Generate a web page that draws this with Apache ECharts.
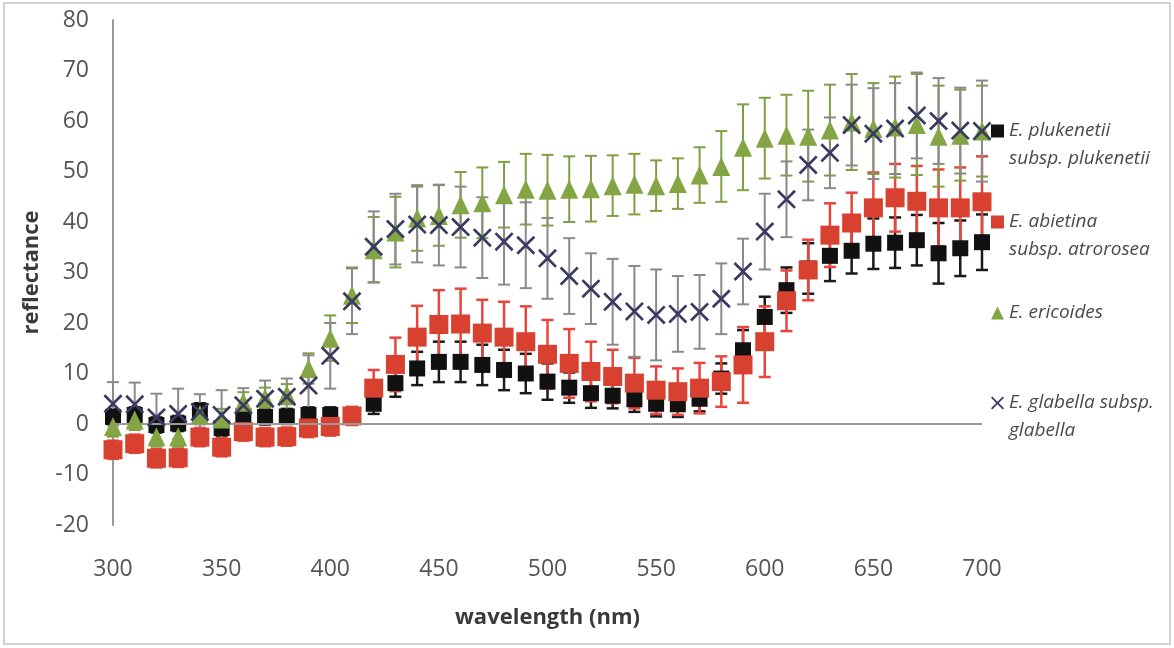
<!DOCTYPE html>
<html>
<head>
<meta charset="utf-8">
<script src="https://cdn.jsdelivr.net/npm/echarts@6/dist/echarts.min.js"></script>
<style>
  html, body { margin: 0; padding: 0; background: #fff; }
  #chart { width: 1174px; height: 648px; }
</style>
</head>
<body>
<div id="chart"></div>
<script>
  // wavelength steps, 10 nm apart
  const wavelength = [300, 310, 320, 330, 340, 350, 360, 370, 380, 390, 400, 410, 420, 430, 440, 450, 460, 470, 480, 490, 500,
    510, 520, 530, 540, 550, 560, 570, 580, 590, 600, 610, 620, 630, 640, 650, 660, 670, 680, 690, 700];

  const plukenetii = [1.4, 1.8, -0.2, 0.1, 2.6, -0.8, 1.6, 1.4, 1.5, 1.8, 1.8, 1.5, 4.0, 8.1, 11.0, 12.3, 12.3, 11.7, 10.7, 10.0, 8.4,
    7.2, 6.1, 5.6, 4.9, 4.0, 3.9, 5.0, 9.0, 14.6, 21.2, 26.5, 30.8, 33.3, 34.3, 35.7, 35.9, 36.4, 33.8, 34.8, 36.0];
  const plukenetiiErr = [1.5, 1.5, 1.5, 1.5, 1.5, 1.5, 1.5, 1.5, 1.5, 1.5, 1.5, 1.5, 2, 2.7, 3.3, 4, 4, 4, 4, 3.9, 3.6,
    3, 2.9, 2.5, 2.5, 2.5, 2.5, 2.5, 3, 4, 4, 4.5, 5, 5, 4.5, 5, 5, 5, 6, 5.5, 5.5];

  const abietina = [-5.1, -3.9, -6.8, -6.7, -2.6, -4.6, -1.5, -2.6, -2.5, -0.8, -0.5, 1.6, 7.1, 11.8, 17.2, 19.7, 19.8, 18.0, 17.2, 16.3, 13.8,
    12.0, 10.4, 9.4, 8.1, 6.7, 6.4, 7.1, 8.4, 11.7, 16.3, 24.4, 30.5, 37.4, 39.8, 42.8, 44.8, 44.1, 42.8, 42.8, 44.0];
  const abietinaErr = [1.8, 1.8, 1.8, 1.8, 1.8, 1.8, 1.8, 1.8, 1.8, 1.8, 1.8, 1.8, 3.6, 5.3, 6.2, 6.8, 7, 6.6, 7, 7, 6.8,
    6.8, 5.9, 5.3, 5, 4.7, 4.6, 5, 5, 7.5, 7, 6, 6, 6.3, 6, 7, 6.7, 7, 7.6, 8, 9];

  const ericoides = [-0.5, 0.8, -2.5, -2.5, 1.9, 1.0, 4.3, 5.2, 5.9, 11.0, 17.0, 25.5, 34.5, 38.0, 40.8, 41.3, 43.4, 43.8, 45.4, 46.5, 46.3,
    46.5, 46.6, 47.2, 47.5, 47.2, 47.6, 49.3, 51.0, 54.8, 56.6, 57.2, 57.0, 58.2, 59.8, 58.5, 58.8, 59.3, 57.0, 57.2, 58.0];
  const ericoidesErr = [2, 2, 2, 2, 2, 2, 2, 2, 2, 3, 4.5, 5.5, 6.5, 7, 6.5, 6, 6.5, 7, 6.5, 7, 7,
    6.5, 6.5, 6, 6, 5, 5, 5.5, 7, 8.5, 8, 8, 9, 9, 9.5, 9, 10, 10, 10, 9, 9];

  const glabella = [4.0, 3.9, 1.3, 2.0, 2.4, 1.8, 3.7, 5.0, 5.4, 7.6, 13.5, 24.3, 35.1, 38.6, 39.5, 39.4, 39.0, 36.9, 36.1, 35.4, 32.8,
    29.3, 26.8, 24.2, 22.3, 21.6, 21.8, 22.2, 24.8, 30.2, 38.1, 44.5, 51.3, 53.7, 59.2, 57.5, 58.5, 61.1, 60.0, 58.1, 58.0];
  const glabellaErr = [4.3, 4.3, 4.7, 5, 3.5, 4.9, 3.4, 3.6, 3.6, 6, 6.5, 6.5, 7, 7, 7.5, 8, 8, 8, 8.5, 8.5, 8,
    7.5, 7, 8.5, 9, 9, 7.5, 7.3, 7, 6.5, 7.5, 7.5, 7, 7, 8, 9, 9, 8.5, 8.5, 8.5, 10];

  const yTicks = { min: -20, max: 80, step: 10 };
  const xTicks = { min: 300, max: 700, step: 50 };

  const names = [
    'E. plukenetii subsp. plukenetii',
    'E. abietina subsp. atrorosea',
    'E. ericoides',
    'E. glabella subsp. glabella'
  ];

  const crossPath = 'path://M0,2 L2,0 L10,8 L18,0 L20,2 L12,10 L20,18 L18,20 L10,12 L2,20 L0,18 L8,10 Z';
  const font = '"Open Sans", sans-serif';

  // vertical bars with caps, drawn through the axes
  function errorBars(name, values, errs, color, width) {
    return {
      type: 'custom',
      name: name + ' err',
      z: 2,
      silent: true,
      renderItem: (params, api) => {
        const x = api.value(0);
        const top = api.coord([x, api.value(2)]);
        const bot = api.coord([x, api.value(1)]);
        const half = 6;
        const style = { stroke: color, lineWidth: width };
        return {
          type: 'group',
          children: [
            { type: 'line', shape: { x1: top[0], y1: top[1], x2: bot[0], y2: bot[1] }, style },
            { type: 'line', shape: { x1: top[0] - half, y1: top[1], x2: top[0] + half, y2: top[1] }, style },
            { type: 'line', shape: { x1: bot[0] - half, y1: bot[1], x2: bot[0] + half, y2: bot[1] }, style }
          ]
        };
      },
      encode: { x: 0, y: [1, 2] },
      data: wavelength.map((w, i) => [w, values[i] - errs[i], values[i] + errs[i]])
    };
  }

  function points(name, values, symbol, size, color, z) {
    return {
      type: 'scatter',
      name: name,
      symbol: symbol,
      symbolSize: size,
      z: z,
      itemStyle: { color: color, opacity: 1 },
      data: wavelength.map((w, i) => [w, values[i]])
    };
  }

  // legend text is centred on the icon, so an empty first line keeps the icon on the first text line
  function legendItem(name, icon, color, label, top) {
    const twoLines = label.indexOf('\n') >= 0;
    return {
      left: 986,
      top: top,
      orient: 'vertical',
      itemWidth: 13,
      itemHeight: 13,
      selectedMode: false,
      data: [{ name: name, icon: icon, itemStyle: { color: color } }],
      formatter: () => (twoLines ? ' \n' + label : label),
      textStyle: {
        fontFamily: font,
        fontStyle: 'italic',
        fontSize: 19,
        color: '#4a4a4a',
        lineHeight: 28
      }
    };
  }

  const myChart = echarts.init(document.getElementById('chart'));

  const option = {
    animation: false,
    backgroundColor: '#fff',
    grid: { left: 113, right: 192, top: 20, bottom: 123 },
    graphic: [{
      type: 'rect',
      shape: { x: 4, y: 3, width: 1166, height: 641 },
      style: { fill: 'none', stroke: '#c4c4c4', lineWidth: 1.5 },
      silent: true
    }],
    legend: [
      legendItem(names[0], 'rect', '#111', 'E. plukenetii\nsubsp. plukenetii', 84),
      legendItem(names[1], 'rect', '#d8412f', 'E. abietina\nsubsp. atrorosea', 175),
      legendItem(names[2], 'triangle', '#84a544', 'E. ericoides', 294),
      legendItem(names[3], crossPath, '#3a3a62', 'E. glabella subsp.\nglabella', 356)
    ],
    xAxis: {
      type: 'value',
      min: xTicks.min,
      max: xTicks.max,
      interval: xTicks.step,
      name: 'wavelength (nm)',
      nameLocation: 'middle',
      nameGap: 82,
      nameTextStyle: { fontFamily: font, fontWeight: 'bold', fontSize: 22, color: '#3a3a3a' },
      axisLine: { show: false, onZero: false },
      axisTick: { show: false },
      splitLine: { show: false },
      axisLabel: { margin: 33, fontFamily: font, fontSize: 23, color: '#555' }
    },
    yAxis: {
      type: 'value',
      min: yTicks.min,
      max: yTicks.max,
      interval: yTicks.step,
      name: 'reflectance',
      nameLocation: 'middle',
      nameGap: 70,
      nameTextStyle: { fontFamily: font, fontWeight: 'bold', fontSize: 22, color: '#3a3a3a' },
      axisLine: { show: true, lineStyle: { color: '#999', width: 2 } },
      axisTick: { show: false },
      splitLine: { show: false },
      axisLabel: { margin: 24, fontFamily: font, fontSize: 23, color: '#555' }
    },
    series: [
      errorBars(names[0], plukenetii, plukenetiiErr, '#1a1a1a', 2.5),
      errorBars(names[1], abietina, abietinaErr, '#e8453c', 2.5),
      errorBars(names[2], ericoides, ericoidesErr, '#7f9f45', 2),
      errorBars(names[3], glabella, glabellaErr, '#8a8a8a', 2),
      Object.assign(points(names[0], plukenetii, 'rect', 16, '#111', 3), {
        markLine: {
          silent: true,
          symbol: 'none',
          label: { show: false },
          lineStyle: { color: '#999', width: 2, type: 'solid' },
          data: [{ yAxis: 0 }]
        }
      }),
      points(names[1], abietina, 'rect', 19, '#d8412f', 4),
      points(names[2], ericoides, 'triangle', [18, 19], '#84a544', 5),
      points(names[3], glabella, crossPath, 19, '#3a3a62', 6)
    ]
  };

  myChart.setOption(option);
</script>
</body>
</html>
